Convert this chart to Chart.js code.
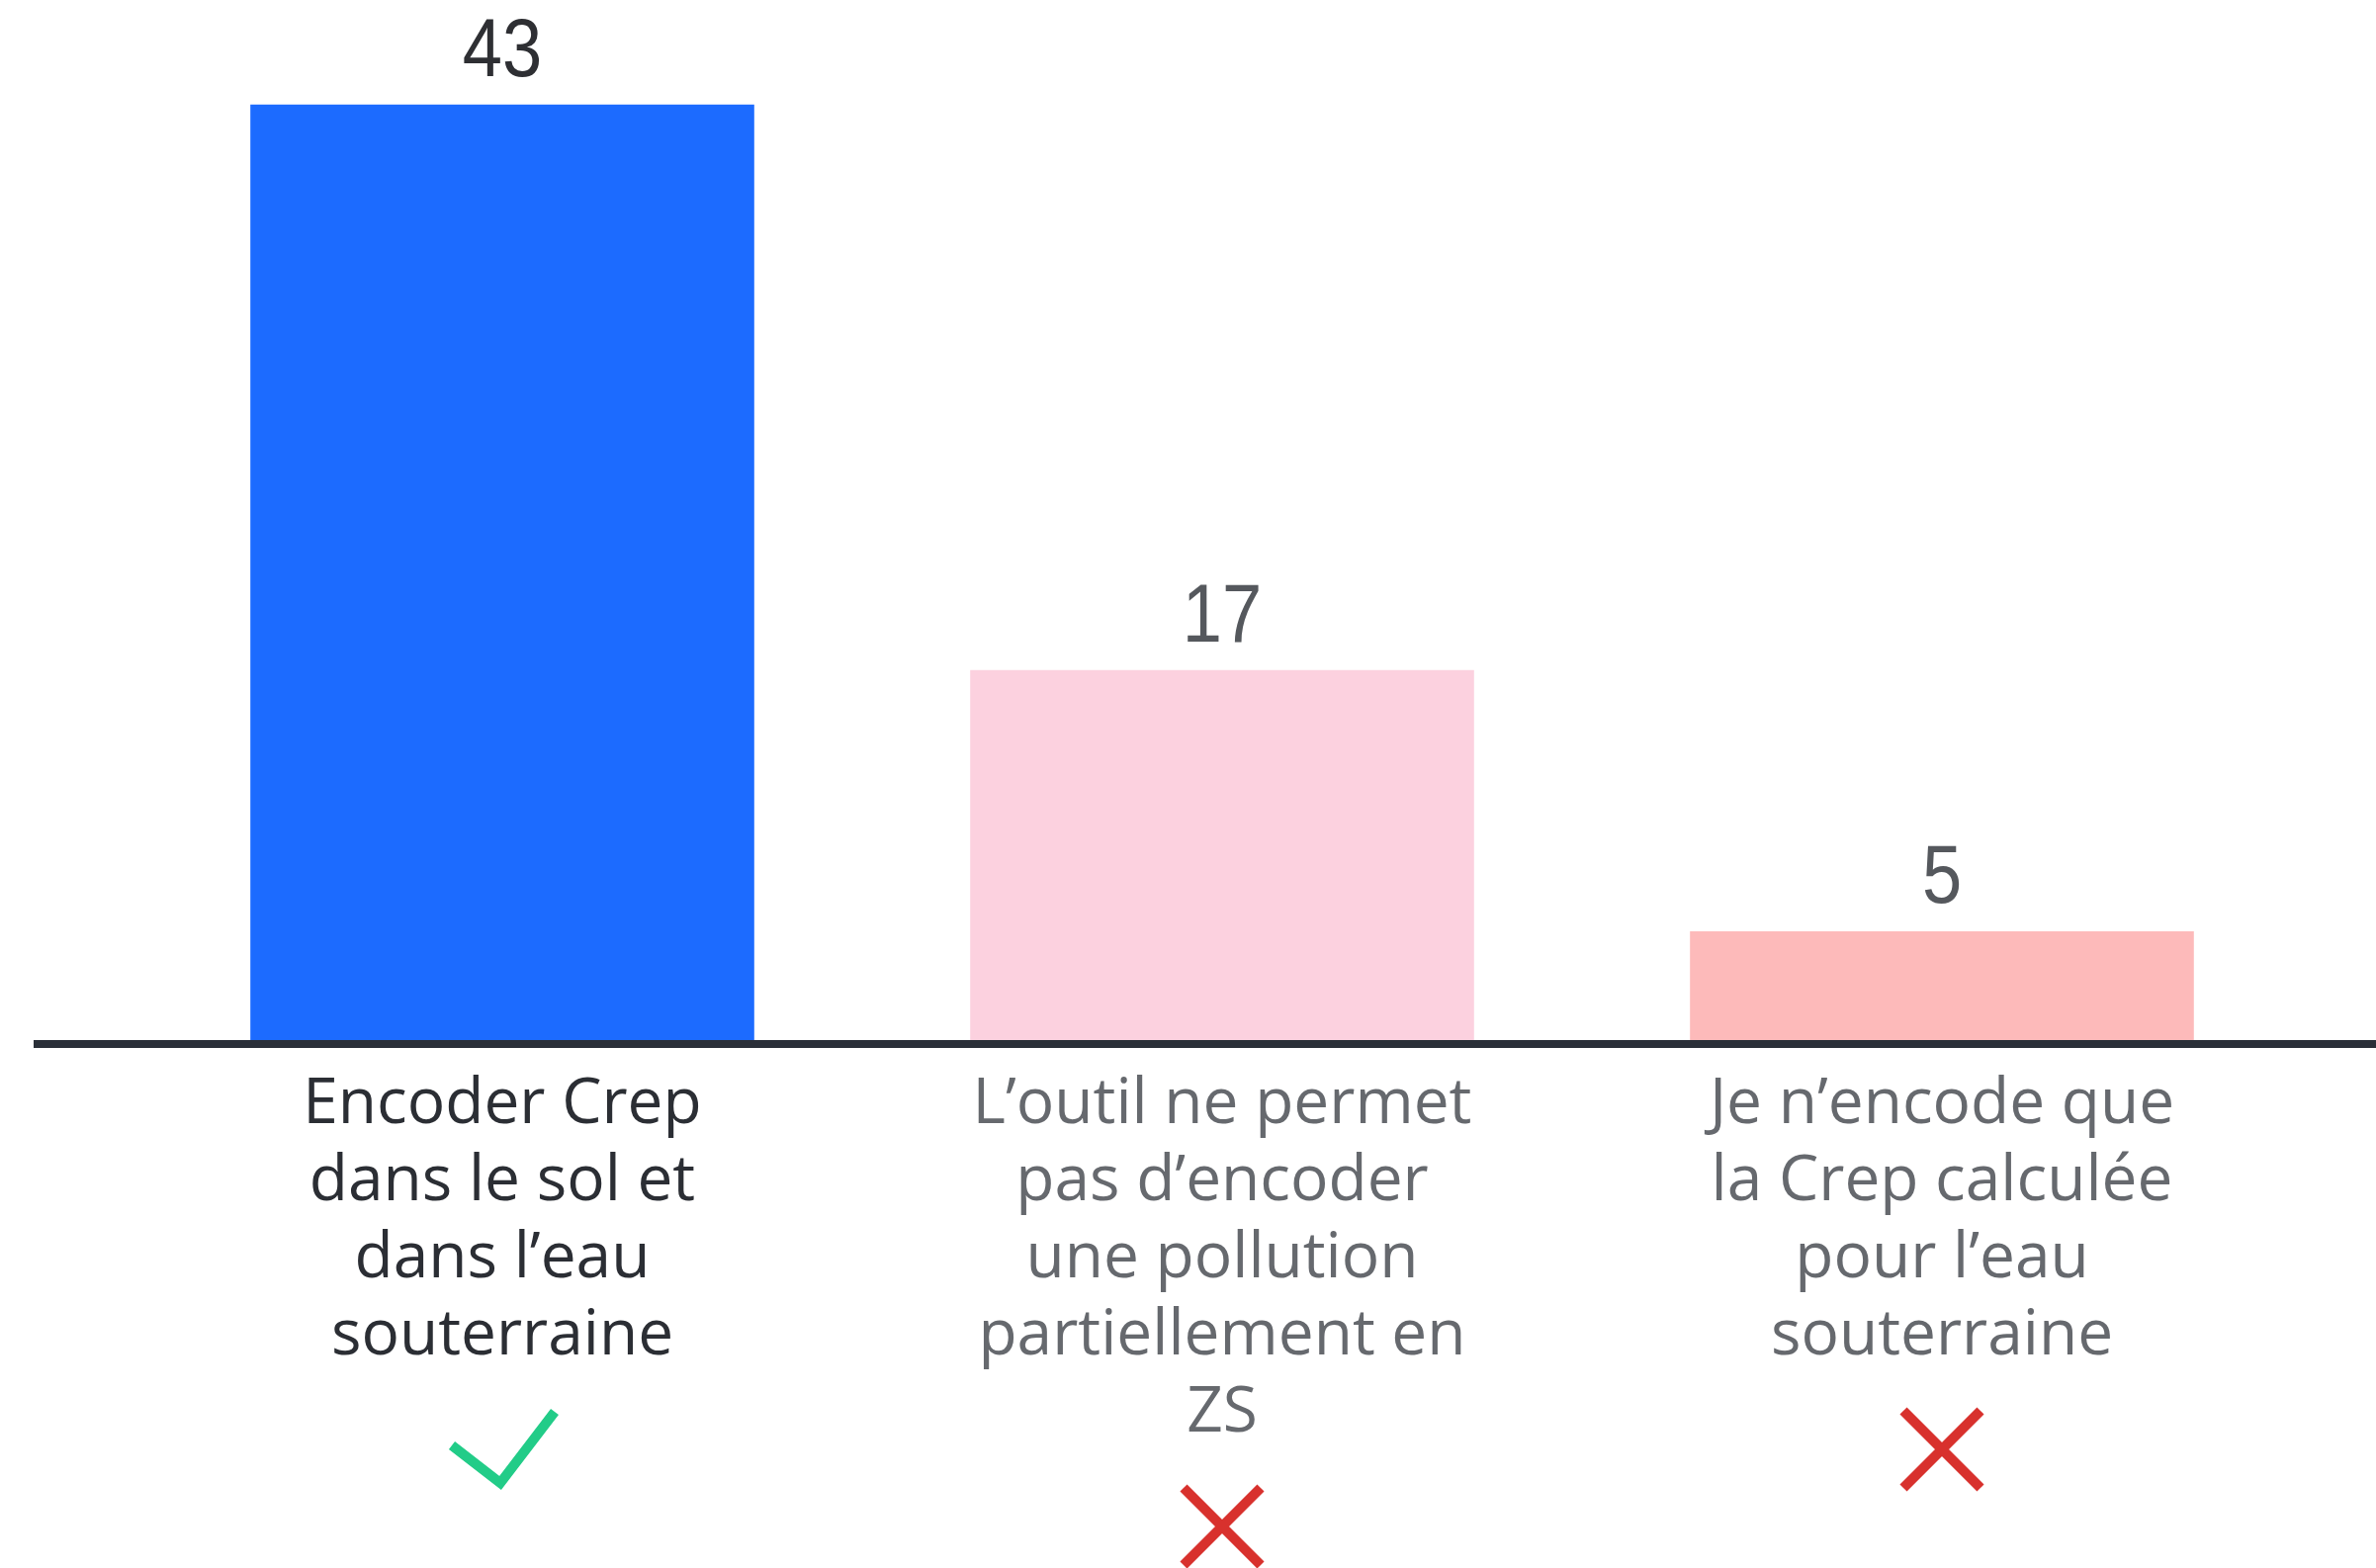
<!DOCTYPE html>
<html>
<head>
<meta charset="utf-8">
<script src="https://cdn.jsdelivr.net/npm/chart.js@4.4.1/dist/chart.umd.min.js"></script>
<style>
  html, body { margin: 0; padding: 0; background: #ffffff; }
  #wrap { width: 2403px; height: 1586px; }
</style>
</head>
<body>
<div id="wrap"><canvas id="myChart"></canvas></div>
<script>
// answers, one bar each
const categories = [
    ["Encoder Crep", "dans le sol et", "dans l’eau", "souterraine"],
    ["L’outil ne permet", "pas d’encoder", "une pollution", "partiellement en", "ZS"],
    ["Je n’encode que", "la Crep calculée", "pour l’eau", "souterraine"]
];
const counts = [43, 17, 5];
const barColors = ["#1c6bff", "#fcd1df", "#fdbaba"];
const labelColors = ["#2b2e34", "#66696e", "#66696e"];
const valueColors = ["#2e2f33", "#55585d", "#55585d"];
const marks = ["check", "cross", "cross"];

const LABEL_SIZE = 64;
const LINE_H = 78;
const TICK_PAD = 19;

// bar values, baseline and the check / cross under each label
const extras = {
    id: "extras",
    afterDraw(chart) {
        const ctx = chart.ctx;
        const x = chart.scales.x;
        const y = chart.scales.y;
        const y0 = y.getPixelForValue(0);

        ctx.save();
        ctx.fillStyle = "#2a2f38";
        ctx.fillRect(34, y0, chart.width - 34, 8);

        // numbers are drawn a bit condensed
        const meta = chart.getDatasetMeta(0);
        ctx.font = "84px 'Liberation Sans', sans-serif";
        ctx.textAlign = "center";
        ctx.textBaseline = "alphabetic";
        meta.data.forEach((bar, i) => {
            ctx.save();
            ctx.translate(bar.x, bar.y - 29);
            ctx.scale(0.86, 1);
            ctx.fillStyle = valueColors[i];
            ctx.fillText(String(counts[i]), 0, 0);
            ctx.restore();
        });

        ctx.lineWidth = 10;
        ctx.lineCap = "butt";
        ctx.lineJoin = "miter";
        categories.forEach((lines, i) => {
            const cx = x.getPixelForValue(i);
            const lastMid = x.top + TICK_PAD + LINE_H * (lines.length - 0.5);
            const cy = lastMid + 122;
            ctx.beginPath();
            if (marks[i] === "check") {
                ctx.strokeStyle = "#22cc88";
                ctx.moveTo(cx - 51, cy - 4);
                ctx.lineTo(cx - 2, cy + 34);
                ctx.lineTo(cx + 53, cy - 38);
            } else {
                ctx.strokeStyle = "#d8312d";
                ctx.moveTo(cx - 39, cy - 39);
                ctx.lineTo(cx + 39, cy + 39);
                ctx.moveTo(cx + 39, cy - 39);
                ctx.lineTo(cx - 39, cy + 39);
            }
            ctx.stroke();
        });
        ctx.restore();
    }
};

const ctx = document.getElementById("myChart");

new Chart(ctx, {
    type: "bar",
    data: {
        labels: categories,
        datasets: [{
            data: counts,
            backgroundColor: barColors,
            borderWidth: 0,
            barPercentage: 0.7,
            categoryPercentage: 1.0
        }]
    },
    options: {
        responsive: true,
        maintainAspectRatio: false,
        animation: false,
        layout: { padding: { left: 144, right: 75, top: 0, bottom: 0 } },
        plugins: {
            legend: { display: false },
            tooltip: { enabled: false }
        },
        scales: {
            x: {
                grid: { display: false },
                border: { display: false },
                ticks: {
                    maxRotation: 0,
                    autoSkip: false,
                    padding: TICK_PAD,
                    color: labelColors,
                    font: { family: "'Open Sans', 'Noto Sans', sans-serif", size: LABEL_SIZE, lineHeight: LINE_H / LABEL_SIZE }
                },
                afterFit(scale) { scale.height = 534; }
            },
            y: {
                display: false,
                min: 0,
                max: 47.8
            }
        }
    },
    plugins: [extras]
});
</script>
</body>
</html>
